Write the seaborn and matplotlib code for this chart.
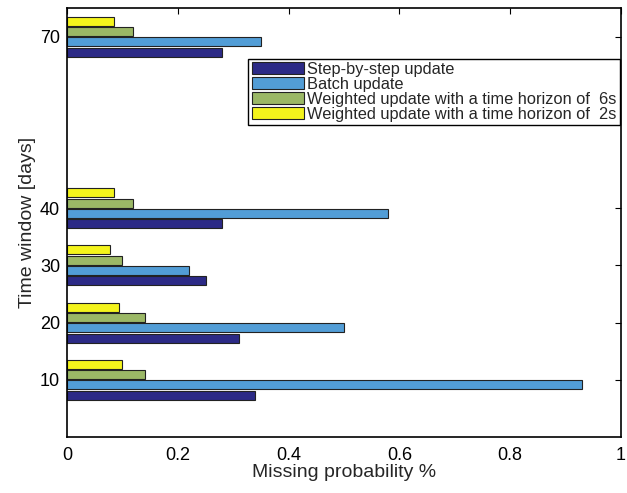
import pandas as pd
import seaborn as sns
from matplotlib import pyplot as plt

windows = [10, 20, 30, 40, 70]
methods = [
    'Step-by-step update',
    'Batch update',
    'Weighted update with a time horizon of  6s',
    'Weighted update with a time horizon of  2s',
]
step_by_step = [0.34, 0.31, 0.25, 0.28, 0.28]
batch = [0.93, 0.50, 0.22, 0.58, 0.35]
weighted_6s = [0.14, 0.14, 0.10, 0.12, 0.12]
weighted_2s = [0.10, 0.094, 0.077, 0.085, 0.085]
colors = ['#2c2a86', '#529dd6', '#9bb866', '#f4f41c']

rows = []
for method, values in zip(methods, [step_by_step, batch, weighted_6s, weighted_2s]):
    for w, v in zip(windows, values):
        rows.append({'window': w, 'prob': v, 'method': method})
df = pd.DataFrame(rows)

sns.set_style('white')
plt.rcParams['font.family'] = ['Liberation Sans', 'DejaVu Sans']

fig = plt.figure(figsize=(6.27, 4.93), dpi=100)
ax = fig.add_axes([67 / 627, 56 / 493, 554 / 627, 429 / 493])

sns.barplot(
    data=df, x='prob', y='window', hue='method', hue_order=methods,
    orient='h', native_scale=True, width=0.72, gap=0.12, saturation=1,
    palette=colors, edgecolor='#222222', linewidth=0.8,
    errorbar=None, ax=ax,
)

ax.set_xlim(0, 1)
ax.set_ylim(0, 75)
ax.set_xticks([0, 0.2, 0.4, 0.6, 0.8, 1])
ax.set_xticklabels(['0', '0.2', '0.4', '0.6', '0.8', '1'])
ax.set_yticks(windows)
ax.set_yticklabels([str(w) for w in windows])
ax.tick_params(direction='in', top=True, right=True, length=4, width=0.8,
               labelsize=13, colors='black')
ax.tick_params(axis='y', pad=5)
ax.tick_params(axis='x', pad=7)
for spine in ax.spines.values():
    spine.set_visible(True)
    spine.set_color('black')
    spine.set_linewidth(1.2)

ax.set_xlabel('Missing probability %', fontsize=14, labelpad=0)
ax.set_ylabel('Time window [days]', fontsize=14, labelpad=3)

leg = ax.legend(
    loc='upper right', bbox_to_anchor=(0.998, 0.882), fontsize=11.8,
    frameon=True, fancybox=False, edgecolor='black', framealpha=1,
    borderpad=0.2, labelspacing=0.0, handlelength=3.2, handleheight=0.8,
    handletextpad=0.2, borderaxespad=0,
)
leg.get_frame().set_linewidth(1.0)

plt.savefig('out.png', dpi=100)
plt.close()
